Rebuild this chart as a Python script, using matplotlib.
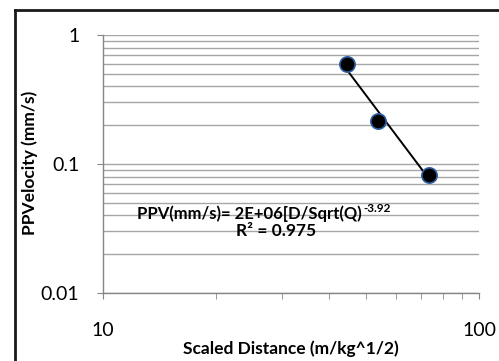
import numpy as np
import matplotlib
matplotlib.use("Agg")
import matplotlib.pyplot as plt
from matplotlib.lines import Line2D
from matplotlib.ticker import LogLocator, NullFormatter, FixedLocator

# Data
scaled_distance = [44.5, 53.8, 73.6]
ppv = [0.60, 0.217, 0.082]
eq_coef_label = "2E+06"
eq_exp_label = "-3.92"
r2_label = "0.975"
x_ticks = [10, 100]
x_tick_labels = ["10", "100"]
y_ticks = [0.01, 0.1, 1]
y_tick_labels = ["0.01", "0.1", "1"]

plt.rcParams['font.family'] = ['Lato', 'DejaVu Sans']

fig = plt.figure(figsize=(4.99, 3.61), dpi=100)
W, H = 499, 361
ax = fig.add_axes([103 / W, 1 - 293 / H, (479 - 103) / W, (293 - 35) / H])

ax.set_xscale('log')
ax.set_yscale('log')
ax.set_xlim(10, 100)
ax.set_ylim(0.01, 1)

grid_c = '#a6a6a6'
ax.yaxis.set_major_locator(FixedLocator(y_ticks))
ax.yaxis.set_minor_locator(LogLocator(base=10, subs=np.arange(2, 10)))
ax.yaxis.set_minor_formatter(NullFormatter())
ax.grid(True, axis='y', which='both', color=grid_c, linewidth=1.0)
ax.set_axisbelow(True)

ax.xaxis.set_major_locator(FixedLocator(x_ticks))
ax.xaxis.set_minor_locator(LogLocator(base=10, subs=np.arange(2, 10)))
ax.xaxis.set_minor_formatter(NullFormatter())
ax.set_xticklabels(x_tick_labels)
ax.set_yticklabels(y_tick_labels)

for s in ['top', 'right']:
    ax.spines[s].set_visible(False)
for s in ['left', 'bottom']:
    ax.spines[s].set_color('#868686')
    ax.spines[s].set_linewidth(1.0)

ax.tick_params(axis='x', which='both', direction='out', length=4, color='#868686',
               labelsize=14, pad=17)
ax.tick_params(axis='y', which='major', direction='out', length=4, color='#868686',
               labelsize=14, pad=13)
ax.tick_params(axis='y', which='minor', length=0)

# trend line: power fit
lx = np.log10(scaled_distance)
ly = np.log10(ppv)
b, a = np.polyfit(lx, ly, 1)
xs = np.logspace(lx.min(), lx.max(), 50)
ax.plot(xs, 10 ** a * xs ** b, color='black', linewidth=1.4, zorder=3)

ax.plot(scaled_distance, ppv, linestyle='none', marker='o', markersize=11,
        markerfacecolor='black', markeredgecolor='#2e5fa3', markeredgewidth=1.2, zorder=4)

eq = fig.text(137 / W, 1 - 214 / H,
              "PPV(mm/s)= " + eq_coef_label + "[D/Sqrt(Q)",
              ha='left', va='center', fontsize=12, fontweight='bold')
ax.annotate(eq_exp_label, xy=(1.0, 1.0), xycoords=eq, xytext=(1, 2),
            textcoords='offset points', ha='left', va='top',
            fontsize=8.5, fontweight='bold')
fig.text(276 / W, 1 - 231 / H, "R² = " + r2_label,
         ha='center', va='center', fontsize=12.5, fontweight='bold')

fig.text(291 / W, 1 - 349 / H, "Scaled Distance (m/kg^1/2)",
         ha='center', va='center', fontsize=12.5, fontweight='bold')
fig.text(30 / W, 1 - 163 / H, "PPVelocity (mm/s)", rotation=90,
         ha='center', va='center', fontsize=12.5, fontweight='bold')

# outer chart border (cropped at right and bottom)
fig.add_artist(Line2D([15 / W, 15 / W], [0, 1 - 10 / H], transform=fig.transFigure,
                      color='#1a1a1a', linewidth=2))
fig.add_artist(Line2D([15 / W, 1], [1 - 10 / H, 1 - 10 / H], transform=fig.transFigure,
                      color='#1a1a1a', linewidth=2))

fig.savefig("out.png", dpi=100)
